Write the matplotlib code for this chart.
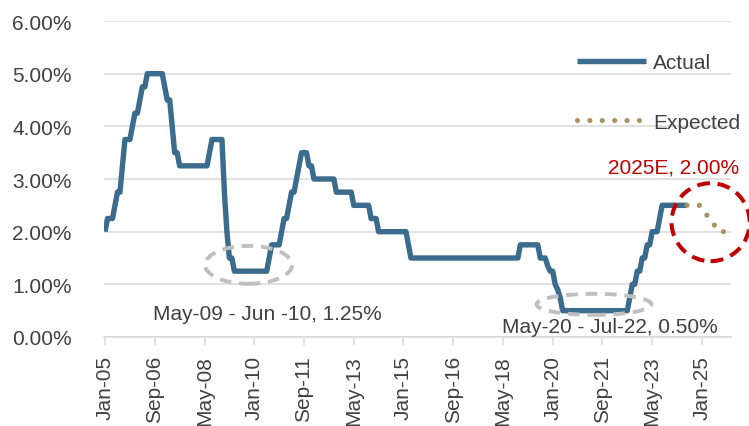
import numpy as np
import pandas as pd
import matplotlib
matplotlib.use('Agg')
import matplotlib.pyplot as plt
from matplotlib.patches import Ellipse

plt.rcParams['font.family'] = ['Liberation Sans', 'DejaVu Sans']

# monthly policy rate (%), Jan-05 .. Jul-24
rate_2005 = [2.00, 2.25, 2.25, 2.25, 2.50, 2.75, 2.75, 3.25, 3.75, 3.75, 3.75, 4.00]
rate_2006 = [4.25, 4.25, 4.50, 4.75, 4.75, 5.00, 5.00, 5.00, 5.00, 5.00, 5.00, 5.00]
rate_2007 = [4.75, 4.50, 4.50, 4.00, 3.50, 3.50, 3.25, 3.25, 3.25, 3.25, 3.25, 3.25]
rate_2008 = [3.25, 3.25, 3.25, 3.25, 3.25, 3.25, 3.50, 3.75, 3.75, 3.75, 3.75, 3.75]
rate_2009 = [2.75, 2.00, 1.50, 1.50, 1.25, 1.25, 1.25, 1.25, 1.25, 1.25, 1.25, 1.25]
rate_2010 = [1.25, 1.25, 1.25, 1.25, 1.25, 1.25, 1.50, 1.75, 1.75, 1.75, 1.75, 2.00]
rate_2011 = [2.25, 2.25, 2.50, 2.75, 2.75, 3.00, 3.25, 3.50, 3.50, 3.50, 3.25, 3.25]
rate_2012 = [3.00, 3.00, 3.00, 3.00, 3.00, 3.00, 3.00, 3.00, 3.00, 2.75, 2.75, 2.75]
rate_2013 = [2.75, 2.75, 2.75, 2.75, 2.50, 2.50, 2.50, 2.50, 2.50, 2.50, 2.50, 2.25]
rate_2014 = [2.25, 2.25, 2.00, 2.00, 2.00, 2.00, 2.00, 2.00, 2.00, 2.00, 2.00, 2.00]
rate_2015 = [2.00, 2.00, 1.75, 1.50, 1.50, 1.50, 1.50, 1.50, 1.50, 1.50, 1.50, 1.50]
rate_2016 = [1.50] * 12
rate_2017 = [1.50] * 12
rate_2018 = [1.50, 1.50, 1.50, 1.50, 1.50, 1.50, 1.50, 1.50, 1.50, 1.50, 1.50, 1.75]
rate_2019 = [1.75, 1.75, 1.75, 1.75, 1.75, 1.75, 1.75, 1.50, 1.50, 1.50, 1.35, 1.25]
rate_2020 = [1.25, 1.00, 0.90, 0.75, 0.50, 0.50, 0.50, 0.50, 0.50, 0.50, 0.50, 0.50]
rate_2021 = [0.50] * 12
rate_2022 = [0.50, 0.50, 0.50, 0.50, 0.50, 0.50, 0.50, 0.75, 1.00, 1.00, 1.25, 1.25]
rate_2023 = [1.50, 1.50, 1.75, 1.75, 2.00, 2.00, 2.00, 2.25, 2.50, 2.50, 2.50, 2.50]
rate_2024 = [2.50, 2.50, 2.50, 2.50, 2.50, 2.50, 2.50]

actual = (rate_2005 + rate_2006 + rate_2007 + rate_2008 + rate_2009 + rate_2010
          + rate_2011 + rate_2012 + rate_2013 + rate_2014 + rate_2015 + rate_2016
          + rate_2017 + rate_2018 + rate_2019 + rate_2020 + rate_2021 + rate_2022
          + rate_2023 + rate_2024)

expected_dates = ['2024-07', '2024-12', '2025-08', '2025-12']
expected = [2.50, 2.50, 2.00, 2.00]

months = pd.period_range('2005-01', '2025-12', freq='M')
tick_every = 20

blue = '#3B6C8E'
tan = '#A8925F'
red = '#C00000'
grey = '#BFBFBF'
txt = '#404040'
fs = 15

x_actual = np.arange(len(actual))
x_exp = [months.get_loc(pd.Period(d, 'M')) for d in expected_dates]

fig = plt.figure(figsize=(7.49, 4.27), dpi=100)
ax = fig.add_axes([103.8 / 749, 89 / 427, 626.7 / 749, 316 / 427])

ax.plot(x_actual, actual, color=blue, lw=3.9, solid_joinstyle='round',
        solid_capstyle='butt', label='Actual', zorder=3)
ax.plot(x_exp, expected, color=tan, lw=3.7, linestyle=(0, (0.01, 2.4)),
        dash_capstyle='round', label='Expected', zorder=3)

ax.set_xlim(-0.5, len(months) - 0.5)
ax.set_ylim(0, 6)
ax.set_yticks(np.arange(0, 7))
ax.yaxis.set_major_formatter(plt.FuncFormatter(lambda v, p: f'{v:.2f}%'))
ticks = np.arange(0, len(months), tick_every)
ax.set_xticks(ticks)
ax.set_xticklabels([months[i].strftime('%b-%y') for i in ticks], rotation=90)

ax.grid(axis='y', color='#D9D9D9', lw=1.1)
ax.set_axisbelow(True)
for s in ['left', 'right', 'top']:
    ax.spines[s].set_visible(False)
ax.spines['bottom'].set_color('#D9D9D9')
ax.spines['bottom'].set_linewidth(1.1)
ax.tick_params(axis='y', length=0, pad=23, labelsize=fs, labelcolor=txt)
ax.tick_params(axis='x', length=6, width=1.1, color='#D9D9D9', pad=7,
               labelsize=fs, labelcolor=txt)

# highlighted periods
ax.add_patch(Ellipse((57.7, 1.37), 35, 0.72, fill=False, ec=grey, lw=2.8,
                     ls=(0, (3, 2)), zorder=4))
ax.add_patch(Ellipse((196.6, 0.62), 46.2, 0.40, fill=False, ec=grey, lw=2.8,
                     ls=(0, (3, 2)), zorder=4))
ax.add_patch(Ellipse((243.5, 2.18), 31.4, 1.48, fill=False, ec=red, lw=2.9,
                     ls=(0, (3.2, 1.9)), zorder=5, clip_on=False))

ax.text(19.3, 0.45, 'May-09 - Jun -10, 1.25%', fontsize=fs, color=txt,
        ha='left', va='center')
ax.text(159.6, 0.19, 'May-20 - Jul-22, 0.50%', fontsize=fs, color=txt,
        ha='left', va='center')
ax.text(202.3, 3.23, '2025E, 2.00%', fontsize=fs, color=red,
        ha='left', va='center')

ax.legend(loc='upper left', bbox_to_anchor=(577 / 749, 1 - 54 / 427),
          bbox_transform=fig.transFigure, frameon=False, fontsize=fs,
          handlelength=3.3, handletextpad=0.35, labelspacing=1.95,
          borderpad=0, borderaxespad=0, labelcolor=txt)

fig.savefig('out.png', dpi=100)
